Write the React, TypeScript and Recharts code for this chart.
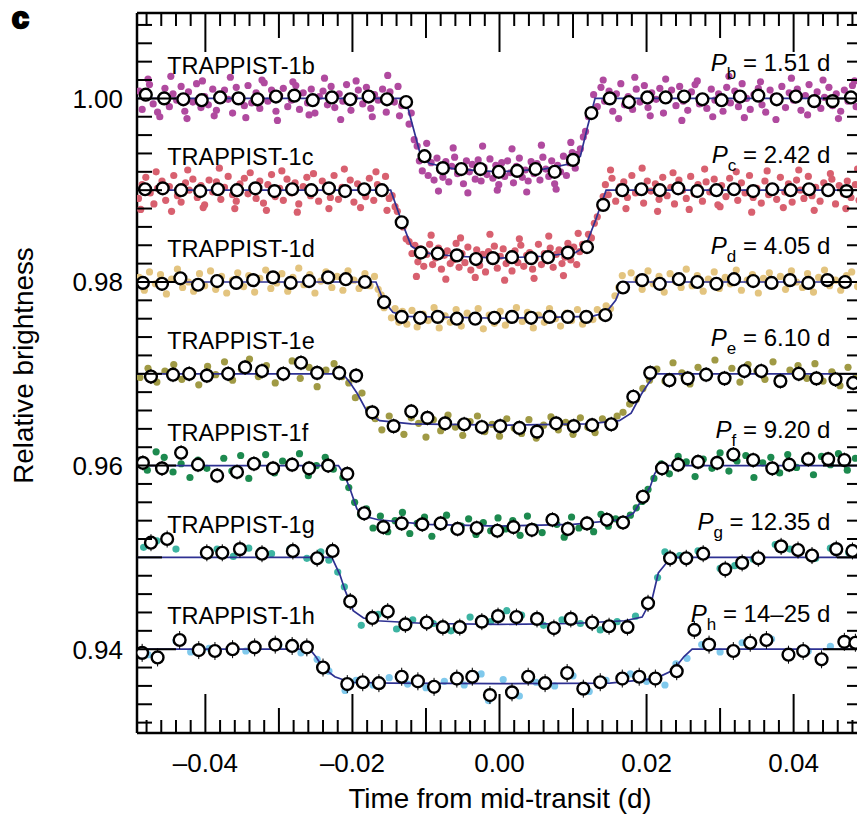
import { ComposedChart, Scatter, XAxis, YAxis, ReferenceLine } from 'recharts';

// time from mid-transit (d), flux deviation in parts per thousand from each row's baseline
const planets = ['b', 'c', 'd', 'e', 'f', 'g', 'h'];
const periods = ['1.51', '2.42', '4.05', '6.10', '9.20', '12.35', '14–25'];
const offsets = [1.0, 0.99, 0.98, 0.97, 0.96, 0.95, 0.94];

const xTickLabels = [-0.04, -0.02, 0, 0.02, 0.04];
const yTickLabels = [0.94, 0.96, 0.98, 1.0];

const bModel = [[-0.0493, 0], [-0.0128, 0], [-0.0118, -3.0], [-0.0107, -6.3], [-0.0095, -7.1], [-0.006, -7.7], [0, -8.0], [0.006, -7.7], [0.0098, -7.1], [0.011, -6.3], [0.012, -3.0], [0.013, 0], [0.0493, 0]];
const cModel = [[-0.0493, 0], [-0.0148, 0], [-0.0134, -3.2], [-0.012, -6.1], [-0.0105, -6.8], [-0.006, -7.2], [0, -7.4], [0.006, -7.2], [0.0103, -6.8], [0.0117, -6.1], [0.0131, -3.2], [0.0145, 0], [0.0493, 0]];
const dModel = [[-0.0493, 0], [-0.0168, 0], [-0.0158, -2.0], [-0.0145, -3.3], [-0.0126, -3.75], [0, -3.95], [0.0126, -3.75], [0.0145, -3.3], [0.0158, -2.0], [0.0168, 0], [0.0493, 0]];
const eModel = [[-0.0493, 0], [-0.0213, 0], [-0.0203, -1.0], [-0.0193, -2.2], [-0.0179, -4.3], [-0.0163, -5.1], [-0.012, -5.45], [0, -5.6], [0.012, -5.45], [0.0163, -5.1], [0.0179, -4.3], [0.0193, -2.2], [0.0203, -1.0], [0.0213, 0], [0.0493, 0]];
const fModel = [[-0.0493, 0], [-0.0219, 0], [-0.0211, -1.0], [-0.0203, -2.6], [-0.0194, -4.7], [-0.0185, -5.5], [-0.0165, -5.9], [-0.01, -6.4], [0, -6.6], [0.01, -6.4], [0.0165, -5.9], [0.0182, -5.2], [0.0193, -3.8], [0.0205, -2.3], [0.0211, -0.9], [0.0218, 0], [0.0493, 0]];
const gModel = [[-0.0493, 0], [-0.0228, 0], [-0.0217, -1.9], [-0.021, -3.6], [-0.0199, -5.8], [-0.0185, -6.6], [-0.0167, -6.9], [-0.01, -7.2], [0, -7.3], [0.01, -7.2], [0.017, -6.9], [0.0194, -6.5], [0.0208, -4.4], [0.0216, -1.7], [0.0228, -0.5], [0.0235, 0], [0.0493, 0]];
const hModel = [[-0.0493, 0], [-0.0258, 0], [-0.025, -0.8], [-0.024, -2.0], [-0.0224, -3.0], [-0.0203, -3.6], [-0.015, -3.7], [0, -3.75], [0.015, -3.7], [0.0212, -3.2], [0.0236, -2.3], [0.0251, -0.8], [0.0262, 0], [0.0493, 0]];

const bBins = [[-0.0481, 0.4], [-0.0456, 0.0], [-0.043, -0.1], [-0.0405, -0.2], [-0.038, 0.1], [-0.0355, 0.0], [-0.0329, -0.1], [-0.0304, 0.2], [-0.0279, 0.3], [-0.0254, -0.2], [-0.0228, 0.1], [-0.0203, -0.1], [-0.0178, 0.2], [-0.0153, -0.1], [-0.0127, -0.4], [-0.0102, -6.3], [-0.0077, -7.6], [-0.0052, -7.7], [-0.0026, -7.7], [-0.0001, -8.0], [0.0024, -7.9], [0.0049, -7.7], [0.0075, -8.0], [0.01, -6.7], [0.0125, -1.6], [0.015, 0.0], [0.0176, -0.4], [0.0201, 0.1], [0.0226, 0.1], [0.0251, 0.2], [0.0276, -0.1], [0.0302, -0.2], [0.0327, 0.2], [0.0352, 0.3], [0.0377, -0.1], [0.0403, 0.2], [0.0428, -0.3], [0.0453, -0.3], [0.0478, 0.1]];
const cBins = [[-0.0482, 0.1], [-0.0458, 0.2], [-0.0433, 0.0], [-0.0407, -0.1], [-0.0383, 0.1], [-0.0357, 0.0], [-0.0332, 0.2], [-0.0306, -0.1], [-0.0282, 0.1], [-0.0256, 0.0], [-0.0232, 0.2], [-0.021, -0.1], [-0.0184, 0.1], [-0.016, 0.0], [-0.0133, -3.5], [-0.0107, -6.8], [-0.0084, -6.9], [-0.0058, -7.1], [-0.0032, -7.5], [-0.0009, -7.4], [0.0017, -7.3], [0.0043, -7.4], [0.0066, -7.3], [0.0093, -6.8], [0.0119, -6.2], [0.0141, -1.6], [0.0167, 0.0], [0.0193, 0.1], [0.0218, 0.0], [0.0243, 0.2], [0.0269, -0.1], [0.0295, 0.0], [0.0319, 0.1], [0.0345, -0.1], [0.0371, 0.1], [0.0396, 0.0], [0.0421, 0.1], [0.0447, 0.0], [0.0472, -0.1]];
const dBins = [[-0.0485, -0.1], [-0.0459, -0.2], [-0.0434, 0.4], [-0.041, -0.3], [-0.0384, 0.1], [-0.0358, -0.1], [-0.0335, 0.2], [-0.0308, 0.5], [-0.0284, -0.1], [-0.0259, 0.1], [-0.0233, 0.5], [-0.0209, 0.3], [-0.0183, 0.0], [-0.0157, -2.2], [-0.0133, -3.8], [-0.0108, -3.9], [-0.0084, -3.8], [-0.0058, -4.0], [-0.0033, -4.0], [-0.0007, -3.9], [0.0017, -3.8], [0.0043, -3.9], [0.0068, -3.8], [0.0093, -3.8], [0.0118, -3.8], [0.0144, -3.6], [0.0168, -0.6], [0.0194, 0.2], [0.0218, -0.2], [0.0244, 0.3], [0.0269, 0.0], [0.0295, -0.2], [0.0319, 0.3], [0.0345, 0.1], [0.037, -0.1], [0.0395, 0.2], [0.042, -0.1], [0.0446, 0.2], [0.047, 0.0]];
const eBins = [[-0.0474, -0.3], [-0.0444, -0.1], [-0.0422, 0.0], [-0.0398, -0.2], [-0.0369, 0.0], [-0.0346, 0.7], [-0.0323, 0.3], [-0.0294, 0.0], [-0.027, 1.2], [-0.0248, 0.1], [-0.0218, 0.1], [-0.0195, -0.2], [-0.0173, -4.2], [-0.0144, -5.7], [-0.012, -4.1], [-0.0098, -4.8], [-0.0074, -5.4], [-0.0048, -5.5], [-0.0024, -5.8], [0.0001, -5.7], [0.0027, -5.9], [0.0051, -6.3], [0.0077, -5.4], [0.0101, -5.7], [0.0126, -5.6], [0.0152, -5.5], [0.0182, -2.5], [0.0205, 0.1], [0.0231, -0.7], [0.0256, -0.5], [0.0281, -0.1], [0.0306, -0.5], [0.0333, 0.3], [0.0356, 0.3], [0.0382, -0.8], [0.0407, 0.0], [0.0431, -0.5], [0.0457, -0.6], [0.0481, -1.0]];
const fBins = [[-0.0485, 0.3], [-0.0459, -0.3], [-0.0433, 1.4], [-0.041, 0.1], [-0.0384, -1.1], [-0.0357, -0.7], [-0.0334, 0.2], [-0.0308, -0.3], [-0.0282, 0.1], [-0.0259, -0.3], [-0.0233, 0.0], [-0.0207, -0.9], [-0.0184, -5.2], [-0.0158, -6.7], [-0.0133, -6.3], [-0.0105, -6.4], [-0.008, -6.3], [-0.0057, -6.9], [-0.0031, -6.8], [-0.0003, -7.1], [0.0019, -6.7], [0.0044, -7.0], [0.0072, -5.9], [0.0093, -6.9], [0.0119, -6.3], [0.0146, -5.9], [0.0168, -6.2], [0.0195, -3.4], [0.0221, -0.3], [0.0243, 0.1], [0.027, 0.4], [0.0296, 0.3], [0.0318, 1.2], [0.0345, 0.6], [0.0371, -0.3], [0.0394, 0.1], [0.042, 0.7], [0.0447, 0.7], [0.0469, 0.6]];
const gBins = [[-0.0474, 1.6], [-0.0452, 2.0], [-0.0398, 0.5], [-0.0377, 0.5], [-0.0353, 0.9], [-0.0323, 0.4], [-0.0281, 0.7], [-0.0248, -0.1], [-0.0227, 0.7], [-0.0203, -4.8], [-0.0173, -6.6], [-0.0152, -5.9], [-0.0128, -7.3], [-0.0099, -7.1], [-0.0077, -7.6], [-0.0054, -7.6], [-0.0024, -7.0], [-0.0002, -6.4], [0.0023, -6.5], [0.0051, -6.7], [0.0074, -7.7], [0.0097, -6.7], [0.0126, -7.1], [0.0149, -7.5], [0.0174, -7.6], [0.0202, -5.0], [0.0232, -0.1], [0.0254, -0.1], [0.0277, 0.4], [0.0307, -1.3], [0.033, -0.6], [0.0352, -0.1], [0.0383, 1.2], [0.0406, 0.8], [0.0425, 0.2], [0.0458, 0.9], [0.048, 0.7]];
const hBins = [[-0.0486, -0.4], [-0.0465, -0.9], [-0.0435, 1.0], [-0.0409, -0.1], [-0.0387, -0.2], [-0.0363, 0.0], [-0.0333, 0.2], [-0.0305, 0.5], [-0.0282, 0.35], [-0.0262, 0.2], [-0.024, -2.0], [-0.0207, -3.8], [-0.0186, -3.6], [-0.0164, -3.7], [-0.0133, -3.0], [-0.0111, -3.5], [-0.0089, -4.1], [-0.0058, -3.2], [-0.0037, -3.0], [-0.0013, -5.0], [0.0017, -4.7], [0.0039, -3.0], [0.0062, -3.7], [0.0092, -2.6], [0.0114, -4.3], [0.0137, -3.6], [0.0167, -3.2], [0.019, -3.0], [0.0212, -3.2], [0.0241, -2.4], [0.0265, 2.1], [0.0285, 0.5], [0.0318, -0.2], [0.0341, 0.7], [0.0363, 1.0], [0.0393, -0.6], [0.0413, -0.2], [0.0438, -1.1], [0.0469, 0.8], [0.0484, 0.7]];

const bDots = [[-0.049, 0.8], [-0.0486, -1.2], [-0.048, 0.3], [-0.0476, 1.5], [-0.0471, -0.6], [-0.0465, -1.5], [-0.046, 0.1], [-0.0455, 1.1], [-0.0449, -0.9], [-0.0444, 0.5], [-0.0439, -0.2], [-0.0433, 1.3], [-0.0428, -1.4], [-0.0423, 0.7], [-0.0417, -0.4], [-0.0412, 1.6], [-0.0406, -1.0], [-0.0401, 0.2], [-0.0396, -0.7], [-0.039, 1.0], [-0.0385, -1.3], [-0.038, 0.4], [-0.0374, 0.9], [-0.0369, -0.1], [-0.0363, -1.6], [-0.0358, 1.2], [-0.0353, 0.0], [-0.0347, -0.8], [-0.0342, 1.4], [-0.0337, -0.5], [-0.0331, 0.6], [-0.0326, -1.1], [-0.032, 1.7], [-0.0315, -0.3], [-0.031, 0.9], [-0.0304, -1.4], [-0.0299, 0.3], [-0.0294, 1.1], [-0.0288, -0.9], [-0.0283, -0.2], [-0.0277, 1.4], [-0.0272, -1.2], [-0.0267, 0.6], [-0.0261, -0.5], [-0.0256, 1.0], [-0.0251, -1.6], [-0.0245, 0.2], [-0.024, 0.8], [-0.0234, -0.7], [-0.0229, 1.3], [-0.0224, -1.0], [-0.0218, 0.5], [-0.0213, -0.3], [-0.0208, 1.5], [-0.0202, -1.3], [-0.0197, 0.1], [-0.0192, 0.9], [-0.0186, -0.6], [-0.0181, 1.2], [-0.0175, -1.1], [-0.017, 0.4], [-0.0165, -0.2], [-0.0159, 1.0], [-0.0154, -1.5], [-0.0149, 0.7], [-0.0143, -0.4], [-0.0138, 1.3], [-0.0133, -0.8],
  [-0.0478, 2.1], [-0.0462, -2.0], [-0.0447, 2.4], [-0.0425, -2.2], [-0.0404, 1.9], [-0.0388, -1.9], [-0.0366, 2.3], [-0.0345, -2.1], [-0.0323, 2.0], [-0.0302, -2.4], [-0.0281, 1.8], [-0.0259, -1.8], [-0.0238, 2.2], [-0.0216, -2.3], [-0.0195, 1.9], [-0.0173, -2.0], [-0.0152, 2.5], [-0.0136, -1.9],
  [-0.0127, -0.5], [-0.0123, -2.8], [-0.012, -1.6], [-0.0116, -4.5], [-0.0112, -5.2], [-0.0109, -6.8],
  [-0.0105, -7.9], [-0.0101, -6.2], [-0.0097, -8.4], [-0.0093, -7.0], [-0.0089, -8.9], [-0.0085, -6.5], [-0.0081, -7.8], [-0.0077, -8.6], [-0.0073, -6.9], [-0.0069, -9.1], [-0.0065, -7.4], [-0.0061, -6.4], [-0.0057, -8.2], [-0.0053, -7.6], [-0.0049, -9.3], [-0.0045, -6.8], [-0.0041, -8.0], [-0.0037, -7.2], [-0.0033, -8.8], [-0.0029, -6.7], [-0.0025, -9.0], [-0.0021, -7.5], [-0.0017, -8.3], [-0.0013, -6.6], [-0.0009, -8.7], [-0.0005, -7.3], [-0.0001, -9.4], [0.0003, -7.0], [0.0007, -8.5], [0.0011, -6.8], [0.0015, -8.1], [0.0019, -9.2], [0.0023, -7.4], [0.0027, -6.5], [0.0031, -8.6], [0.0035, -7.8], [0.0039, -9.0], [0.0043, -6.9], [0.0047, -8.2], [0.0051, -7.1], [0.0055, -8.9], [0.0059, -6.4], [0.0063, -7.7], [0.0067, -8.5], [0.0071, -6.8], [0.0075, -9.3], [0.0079, -7.3], [0.0083, -8.0], [0.0087, -6.3], [0.0091, -8.4], [0.0095, -7.0], [0.0099, -5.9], [0.0103, -7.6], [0.0106, -6.1],
  [-0.0099, -4.9], [-0.0083, -10.1], [-0.0063, -5.4], [-0.0043, -10.3], [-0.0023, -5.2], [-0.0003, -10.0], [0.0017, -5.5], [0.0037, -10.2], [0.0057, -5.1], [0.0077, -9.9], [0.0097, -4.8],
  [0.011, -5.5], [0.0114, -4.2], [0.0117, -3.6], [0.0121, -2.0], [0.0125, -1.5], [0.0128, 0.4],
  [0.0133, -0.9], [0.0138, 1.2], [0.0143, -0.3], [0.0149, 0.8], [0.0154, -1.4], [0.0159, 0.5], [0.0165, 1.6], [0.017, -0.7], [0.0175, 0.2], [0.0181, -1.2], [0.0186, 1.0], [0.0191, -0.4], [0.0197, 1.4], [0.0202, -1.0], [0.0207, 0.6], [0.0213, -0.1], [0.0218, 1.1], [0.0223, -1.6], [0.0229, 0.3], [0.0234, 0.9], [0.024, -0.8], [0.0245, 1.3], [0.025, -0.3], [0.0256, -1.3], [0.0261, 0.7], [0.0266, 1.5], [0.0272, -0.6], [0.0277, 0.1], [0.0282, -1.1], [0.0288, 1.0], [0.0293, -0.2], [0.0298, 0.5], [0.0304, -1.4], [0.0309, 1.2], [0.0314, -0.5], [0.032, 0.8], [0.0325, -0.9], [0.033, 1.6], [0.0336, 0.0], [0.0341, -1.2], [0.0346, 0.4], [0.0352, 1.1], [0.0357, -0.7], [0.0362, -1.5], [0.0368, 0.9], [0.0373, 0.2], [0.0378, -0.4], [0.0384, 1.3], [0.0389, -1.0], [0.0394, 0.6], [0.04, -0.2], [0.0405, 1.0], [0.041, -1.3], [0.0416, 0.3], [0.0421, 1.5], [0.0426, -0.6], [0.0432, 0.7], [0.0437, -1.1], [0.0442, 0.1], [0.0448, 1.2], [0.0453, -0.8], [0.0458, 0.5], [0.0464, -1.4], [0.0469, 0.9], [0.0474, -0.3], [0.048, 1.4], [0.0485, -0.9],
  [0.0141, 2.0], [0.0162, -2.2], [0.0184, 2.3], [0.0205, -1.9], [0.0226, 2.1], [0.0248, -2.4], [0.0269, 1.9], [0.029, -2.0], [0.0312, 2.4], [0.0333, -2.1], [0.0355, 1.8], [0.0376, -2.3], [0.0397, 2.2], [0.0419, -1.8], [0.044, 2.0], [0.0461, -2.2], [0.0483, 1.9]];

const cDots = [[-0.0491, -0.9], [-0.0486, 0.6], [-0.0481, 1.4], [-0.0475, -0.3], [-0.047, -1.5], [-0.0465, 0.2], [-0.0459, 1.0], [-0.0454, -1.1], [-0.0449, 0.4], [-0.0443, 1.6], [-0.0438, -0.6], [-0.0433, -1.3], [-0.0427, 0.8], [-0.0422, 0.0], [-0.0417, 1.2], [-0.0411, -0.8], [-0.0406, 0.5], [-0.0401, -1.6], [-0.0395, 1.1], [-0.039, -0.2], [-0.0385, 0.9], [-0.0379, -1.0], [-0.0374, 0.3], [-0.0369, 1.5], [-0.0363, -0.5], [-0.0358, -1.2], [-0.0353, 0.7], [-0.0347, 1.3], [-0.0342, -0.4], [-0.0337, 0.1], [-0.0331, -0.9], [-0.0326, 1.0], [-0.0321, -1.4], [-0.0315, 0.6], [-0.031, 1.7], [-0.0305, -0.7], [-0.0299, 0.2], [-0.0294, -1.1], [-0.0289, 1.2], [-0.0283, -0.3], [-0.0278, 0.8], [-0.0273, -1.5], [-0.0267, 0.4], [-0.0262, 1.4], [-0.0257, -0.6], [-0.0251, 0.0], [-0.0246, -1.2], [-0.0241, 1.0], [-0.0235, 0.5], [-0.023, -0.8], [-0.0225, 1.6], [-0.0219, -1.0], [-0.0214, 0.3], [-0.0209, -0.4], [-0.0203, 1.1], [-0.0198, -1.3], [-0.0193, 0.7], [-0.0187, 0.1], [-0.0182, -0.7], [-0.0177, 1.3], [-0.0171, -1.1], [-0.0166, 0.6], [-0.0161, -0.2], [-0.0155, 1.5], [-0.015, -0.9],
  [-0.0488, -2.1], [-0.0467, 2.0], [-0.0446, -2.3], [-0.0424, 2.2], [-0.0403, -1.9], [-0.0381, 2.4], [-0.036, -2.0], [-0.0339, 1.9], [-0.0317, -2.2], [-0.0296, 2.1], [-0.0275, -2.4], [-0.0253, 1.8], [-0.0232, -2.0], [-0.0211, 2.3], [-0.0189, -1.9], [-0.0168, 2.0], [-0.0153, -2.2],
  [-0.0146, -0.6], [-0.0142, -1.8], [-0.0139, -2.3], [-0.0135, -3.5], [-0.0131, -4.0], [-0.0127, -5.3], [-0.0123, -5.6], [-0.0119, -6.9],
  [-0.0115, -6.0], [-0.0111, -7.8], [-0.0107, -6.4], [-0.0103, -8.3], [-0.0099, -7.0], [-0.0095, -5.9], [-0.0091, -8.1], [-0.0087, -7.4], [-0.0083, -6.3], [-0.0079, -8.6], [-0.0075, -7.1], [-0.0071, -6.6], [-0.0067, -8.0], [-0.0063, -7.6], [-0.0059, -5.8], [-0.0055, -8.4], [-0.0051, -6.9], [-0.0047, -7.9], [-0.0043, -6.2], [-0.0039, -8.7], [-0.0035, -7.3], [-0.0031, -6.5], [-0.0027, -8.2], [-0.0023, -7.0], [-0.0019, -8.9], [-0.0015, -6.7], [-0.0011, -7.7], [-0.0007, -6.1], [-0.0003, -8.5], [0.0001, -7.2], [0.0005, -6.4], [0.0009, -8.0], [0.0013, -7.5], [0.0017, -8.8], [0.0021, -6.6], [0.0025, -7.9], [0.0029, -6.0], [0.0033, -8.3], [0.0037, -7.1], [0.0041, -6.8], [0.0045, -8.6], [0.0049, -7.4], [0.0053, -5.9], [0.0057, -8.1], [0.0061, -6.9], [0.0065, -7.7], [0.0069, -6.3], [0.0073, -8.4], [0.0077, -7.0], [0.0081, -6.5], [0.0085, -8.0], [0.0089, -7.3], [0.0093, -5.8], [0.0097, -7.6], [0.0101, -6.2], [0.0105, -8.1], [0.0109, -6.7], [0.0113, -5.9],
  [-0.0113, -9.4], [-0.0093, -4.9], [-0.0073, -9.7], [-0.0053, -5.2], [-0.0033, -9.5], [-0.0013, -4.8], [0.0007, -9.8], [0.0027, -5.3], [0.0047, -9.6], [0.0067, -5.0], [0.0087, -9.3], [0.0107, -4.7],
  [0.0117, -6.5], [0.0121, -4.8], [0.0125, -5.2], [0.0129, -3.6], [0.0133, -2.9], [0.0137, -1.8], [0.0141, -0.7], [0.0144, 0.6],
  [0.0148, -0.5], [0.0153, 1.3], [0.0158, -1.2], [0.0164, 0.4], [0.0169, 0.9], [0.0174, -0.8], [0.018, 1.6], [0.0185, -0.3], [0.019, 0.2], [0.0196, -1.4], [0.0201, 1.0], [0.0206, -0.1], [0.0212, 0.7], [0.0217, -1.0], [0.0222, 1.4], [0.0228, -0.6], [0.0233, 0.3], [0.0238, -1.5], [0.0244, 1.1], [0.0249, 0.0], [0.0254, -0.9], [0.026, 1.5], [0.0265, -0.4], [0.027, 0.6], [0.0276, -1.2], [0.0281, 0.9], [0.0286, -0.2], [0.0292, 1.2], [0.0297, -1.6], [0.0302, 0.5], [0.0308, -0.7], [0.0313, 1.3], [0.0318, 0.1], [0.0324, -1.1], [0.0329, 0.8], [0.0334, -0.3], [0.034, 1.6], [0.0345, -0.8], [0.035, 0.2], [0.0356, -1.4], [0.0361, 1.0], [0.0366, -0.5], [0.0372, 0.4], [0.0377, -1.0], [0.0382, 1.4], [0.0388, -0.2], [0.0393, 0.7], [0.0398, -1.3], [0.0404, 1.1], [0.0409, 0.0], [0.0414, -0.9], [0.042, 1.5], [0.0425, -0.6], [0.043, 0.3], [0.0436, -1.2], [0.0441, 0.8], [0.0446, -0.1], [0.0452, 1.2], [0.0457, -1.5], [0.0462, 0.5], [0.0468, -0.4], [0.0473, 1.0], [0.0478, -0.8], [0.0484, 0.6], [0.0489, -1.1],
  [0.0151, 2.2], [0.0172, -2.0], [0.0194, 2.4], [0.0215, -2.3], [0.0236, 1.9], [0.0258, -2.1], [0.0279, 2.3], [0.03, -1.8], [0.0322, 2.0], [0.0343, -2.4], [0.0364, 2.1], [0.0386, -1.9], [0.0407, 2.2], [0.0428, -2.2], [0.045, 1.8], [0.0471, -2.0], [0.0487, 2.3]];

const dDots = [[-0.049, 0.5], [-0.0483, -0.9], [-0.0476, 1.1], [-0.0468, -0.2], [-0.0461, 0.8], [-0.0453, -1.3], [-0.0446, 0.3], [-0.0438, 1.4], [-0.0431, -0.6], [-0.0423, 0.0], [-0.0416, -1.0], [-0.0408, 0.9], [-0.0401, -0.4], [-0.0393, 1.2], [-0.0386, -0.8], [-0.0378, 0.6], [-0.0371, -1.2], [-0.0363, 0.2], [-0.0356, 1.0], [-0.0348, -0.5], [-0.0341, 0.7], [-0.0333, -1.1], [-0.0326, 0.4], [-0.0318, 1.3], [-0.0311, -0.7], [-0.0303, -0.1], [-0.0296, 0.9], [-0.0288, -1.0], [-0.0281, 0.5], [-0.0273, 1.5], [-0.0266, -0.3], [-0.0258, 0.8], [-0.0251, -1.2], [-0.0243, 0.1], [-0.0236, 1.1], [-0.0228, -0.6], [-0.0221, 0.6], [-0.0213, -0.9], [-0.0206, 1.2], [-0.0198, 0.2], [-0.0191, -0.7], [-0.0183, 0.9], [-0.0176, -0.4], [-0.017, 0.6],
  [-0.0165, -0.8], [-0.0161, -1.4], [-0.0157, -2.8], [-0.0152, -2.2], [-0.0147, -3.9], [-0.0142, -2.9], [-0.0137, -4.4], [-0.0132, -3.2],
  [-0.0126, -4.6], [-0.0119, -3.1], [-0.0112, -4.9], [-0.0104, -3.5], [-0.0097, -4.2], [-0.0089, -2.8], [-0.0082, -5.0], [-0.0074, -3.7], [-0.0067, -4.4], [-0.0059, -3.0], [-0.0052, -4.8], [-0.0044, -3.4], [-0.0037, -4.1], [-0.0029, -2.9], [-0.0022, -5.1], [-0.0014, -3.6], [-0.0007, -4.5], [0.0001, -3.2], [0.0008, -4.7], [0.0016, -3.8], [0.0023, -2.8], [0.0031, -4.3], [0.0038, -3.3], [0.0046, -5.0], [0.0053, -3.6], [0.0061, -4.4], [0.0068, -2.9], [0.0076, -4.0], [0.0083, -4.8], [0.0091, -3.4], [0.0098, -4.2], [0.0106, -3.0], [0.0113, -4.6], [0.012, -3.5],
  [0.0127, -4.1], [0.0133, -3.0], [0.0139, -3.8], [0.0145, -2.6], [0.0151, -2.9], [0.0157, -1.5], [0.0162, -0.6], [0.0167, 0.7],
  [0.0172, -0.5], [0.0179, 1.0], [0.0187, 0.3], [0.0194, -0.8], [0.0202, 1.2], [0.0209, -0.2], [0.0217, 0.6], [0.0224, -1.1], [0.0232, 0.9], [0.0239, 0.1], [0.0247, -0.6], [0.0254, 1.4], [0.0262, -0.4], [0.0269, 0.7], [0.0277, -1.0], [0.0284, 0.3], [0.0292, 1.1], [0.0299, -0.7], [0.0307, 0.5], [0.0314, -0.2], [0.0322, 1.3], [0.0329, -0.9], [0.0337, 0.2], [0.0344, 0.8], [0.0352, -1.2], [0.0359, 0.4], [0.0367, 1.0], [0.0374, -0.3], [0.0382, 0.6], [0.0389, -0.8], [0.0397, 1.2], [0.0404, 0.0], [0.0412, -0.6], [0.0419, 0.9], [0.0427, -1.1], [0.0434, 0.5], [0.0442, 1.3], [0.0449, -0.4], [0.0457, 0.2], [0.0464, -0.9], [0.0472, 0.7], [0.0479, 1.1], [0.0487, -0.5]];

const eDots = [[-0.0489, -0.4], [-0.0478, 0.6], [-0.0466, -0.9], [-0.0455, 0.3], [-0.0443, 1.0], [-0.0432, -0.6], [-0.042, 0.2], [-0.0409, -1.2], [-0.0397, 0.8], [-0.0386, -0.1], [-0.0374, 1.3], [-0.0363, -0.7], [-0.0351, 0.5], [-0.034, 1.6], [-0.0328, -0.3], [-0.0317, 0.9], [-0.0305, -1.0], [-0.0294, 0.1], [-0.0282, 1.4], [-0.0271, -0.5], [-0.0259, 0.7], [-0.0248, -1.4], [-0.0236, 0.4], [-0.0225, 1.1], [-0.0214, -0.3],
  [-0.0205, -1.0], [-0.0196, -2.6], [-0.0187, -2.1], [-0.0178, -3.9], [-0.0169, -4.9],
  [-0.016, -6.1], [-0.015, -4.6], [-0.014, -5.9], [-0.013, -6.6], [-0.012, -4.8], [-0.011, -5.4], [-0.01, -6.9], [-0.009, -5.0], [-0.008, -6.2], [-0.007, -4.5], [-0.006, -5.8], [-0.005, -6.7], [-0.004, -5.2], [-0.003, -4.6], [-0.002, -6.3], [-0.001, -5.5], [0.0, -6.8], [0.001, -4.9], [0.002, -5.9], [0.003, -6.5], [0.004, -5.0], [0.005, -7.0], [0.006, -5.6], [0.007, -4.7], [0.008, -6.1], [0.009, -5.3], [0.01, -6.6], [0.011, -4.8], [0.012, -5.8], [0.013, -6.4], [0.014, -4.9], [0.015, -5.7], [0.016, -4.6],
  [0.0168, -4.2], [0.0177, -3.3], [0.0186, -2.8], [0.0195, -1.6], [0.0204, -0.7],
  [0.0214, 0.5], [0.0225, -0.8], [0.0236, 1.2], [0.0248, 0.1], [0.0259, -1.1], [0.027, 0.7], [0.0282, -0.4], [0.0293, 1.5], [0.0304, -0.2], [0.0316, 0.6], [0.0327, -0.9], [0.0338, 1.0], [0.035, 0.3], [0.0361, -0.6], [0.0372, 1.3], [0.0384, -1.0], [0.0395, 0.4], [0.0406, 0.9], [0.0418, -0.5], [0.0429, 1.1], [0.044, -0.8], [0.0452, 0.2], [0.0463, -1.3], [0.0474, 0.7], [0.0486, -0.3]];

const fDots = [[-0.049, 0.4], [-0.0479, -0.5], [-0.0467, 1.5], [-0.0456, 0.9], [-0.0444, -0.7], [-0.0433, 0.2], [-0.0421, -1.3], [-0.041, 0.6], [-0.0398, -0.3], [-0.0387, -1.0], [-0.0375, 0.8], [-0.0364, -0.6], [-0.0352, 1.1], [-0.0341, -1.4], [-0.0329, 0.3], [-0.0318, 1.2], [-0.0306, -0.8], [-0.0295, 0.5], [-0.0283, -0.2], [-0.0272, 1.3], [-0.026, -1.1], [-0.0249, 0.0], [-0.0237, 0.9], [-0.0226, -0.4],
  [-0.0213, -1.3], [-0.0205, -2.4], [-0.0197, -4.0], [-0.0189, -5.3], [-0.0181, -4.7],
  [-0.0172, -6.8], [-0.0162, -5.5], [-0.0152, -7.2], [-0.0142, -6.0], [-0.0132, -5.1], [-0.0122, -7.4], [-0.0112, -6.3], [-0.0102, -5.6], [-0.0092, -7.7], [-0.0082, -6.1], [-0.0072, -5.4], [-0.0062, -7.0], [-0.0052, -6.6], [-0.0042, -5.8], [-0.0032, -7.5], [-0.0022, -6.2], [-0.0012, -7.1], [-0.0002, -5.7], [0.0008, -6.9], [0.0018, -6.0], [0.0028, -7.6], [0.0038, -5.5], [0.0048, -6.7], [0.0058, -7.3], [0.0068, -5.9], [0.0078, -6.4], [0.0088, -7.8], [0.0098, -5.6], [0.0108, -6.8], [0.0118, -6.1], [0.0128, -7.2], [0.0138, -5.3], [0.0148, -6.6], [0.0158, -5.8], [0.0168, -6.3],
  [0.0178, -5.4], [0.0186, -4.6], [0.0194, -3.9], [0.0202, -2.6], [0.021, -1.4],
  [0.022, 0.2], [0.0231, -0.9], [0.0243, 1.0], [0.0254, 0.4], [0.0266, -1.2], [0.0277, 0.7], [0.0289, -0.3], [0.03, 1.4], [0.0312, -0.6], [0.0323, 0.5], [0.0335, 1.1], [0.0346, -1.3], [0.0358, 0.3], [0.0369, 0.9], [0.0381, -0.8], [0.0392, 1.2], [0.0404, -0.2], [0.0415, 0.6], [0.0427, -1.0], [0.0438, 1.0], [0.045, 0.1], [0.0461, 1.3], [0.0473, -0.5], [0.0484, 0.8]];

const gDots = [[-0.0484, 1.1], [-0.0466, 1.8], [-0.044, 0.9], [-0.0401, 0.3], [-0.0384, 0.9], [-0.0362, 0.1], [-0.0341, 1.0], [-0.031, 0.4], [-0.0285, 0.9], [-0.0262, -0.1], [-0.0243, 0.6], [-0.0232, -0.3], [-0.022, -1.6], [-0.0211, -3.2], [-0.0188, -7.4], [-0.0165, -6.2], [-0.014, -7.8], [-0.0118, -6.8], [-0.009, -7.2], [-0.0066, -8.0], [-0.004, -6.5], [-0.0012, -7.0], [0.001, -5.8], [0.003, -6.3], [0.006, -7.4], [0.0085, -6.8], [0.011, -7.2], [0.0137, -7.9], [0.016, -7.0], [0.0185, -6.4], [0.02, -4.8], [0.0215, -2.2], [0.0225, 0.6], [0.0245, 0.2], [0.027, 0.7], [0.03, -1.2], [0.032, -0.9], [0.0345, -0.2], [0.0375, 1.4], [0.0395, 0.9], [0.043, -0.1], [0.045, 1.0], [0.0475, 0.5]];

const hDots = [[-0.0478, -0.6], [-0.044, 0.9], [-0.042, -0.3], [-0.0395, 0.1], [-0.0345, -0.2], [-0.03, 0.4], [-0.027, -0.4], [-0.0248, -1.1], [-0.0232, -2.4], [-0.021, -4.5], [-0.0195, -3.4], [-0.0172, -3.9], [-0.015, -3.1], [-0.0125, -3.8], [-0.01, -4.2], [-0.0075, -3.5], [-0.0048, -3.9], [-0.0025, -2.7], [-0.0015, -5.6], [0.0005, -3.3], [0.0027, -5.1], [0.005, -3.6], [0.0075, -4.0], [0.01, -2.9], [0.0122, -4.6], [0.0145, -3.4], [0.0178, -2.7], [0.02, -3.5], [0.0225, -3.9], [0.024, -1.6], [0.0255, -1.0], [0.0275, 0.5], [0.03, -0.3], [0.033, 0.7], [0.037, 1.1], [0.0395, -0.4], [0.042, -0.2], [0.045, 0.3], [0.048, 0.8]];

const dotColors = ['#b04a9f', '#d8606f', '#e3c47f', '#a09a45', '#1d8a4f', '#3db4a2', '#80c9ec'];
const errHalf = [0, 0, 0, 7.5, 7.5, 8.5, 9];
const MODEL_COLOR = '#2e3192';

const X_MIN = -0.0493;
const X_MAX = 0.0493;
const Y_MIN = 0.93087;
const Y_MAX = 1.0093;
const TOP = 13;
const RIGHT = 862;
const FONT = '"Liberation Sans", Arial, Helvetica, sans-serif';

const models = [bModel, cModel, dModel, eModel, fModel, gModel, hModel];
const bins = [bBins, cBins, dBins, eBins, fBins, gBins, hBins];
const dots = [bDots, cDots, dDots, eDots, fDots, gDots, hDots];

const toPoints = (pairs: number[][], offset: number) =>
  pairs.map(([t, p]) => ({ t, f: offset + p / 1000 }));

const xTicks = Array.from({ length: 49 }, (_, i) => +((i - 24) * 0.002).toFixed(3));
const yTicks = Array.from({ length: 39 }, (_, i) => +((466 + i) * 0.002).toFixed(3));

const fmt = (v: number) => (v < 0 ? '\u2013' : '') + Math.abs(v).toFixed(2);
const isLabel = (list: number[], v: number) => list.some((l) => Math.abs(l - v) < 1e-9);

function XTick(props: any) {
  const { x, y, payload } = props;
  const v = payload.value;
  const k = Math.round(v / 0.002);
  const len = k % 10 === 0 ? 39 : k % 5 === 0 ? 25 : 13;
  return (
    <g>
      <line x1={x} x2={x} y1={y} y2={y - len} stroke="#000" strokeWidth={2} />
      <line x1={x} x2={x} y1={TOP} y2={TOP + len} stroke="#000" strokeWidth={2} />
      {isLabel(xTickLabels, v) && (
        <text x={x} y={y + 39} textAnchor="middle" fontFamily={FONT} fontSize={26} fill="#000">
          {fmt(v)}
        </text>
      )}
    </g>
  );
}

function YTick(props: any) {
  const { x, y, payload } = props;
  const v = payload.value;
  const k = Math.round(v / 0.002);
  const len = k % 10 === 0 ? 39 : k % 5 === 0 ? 25 : 15;
  return (
    <g>
      <line x1={x} x2={x + len} y1={y} y2={y} stroke="#000" strokeWidth={2} />
      <line x1={RIGHT - len} x2={RIGHT} y1={y} y2={y} stroke="#000" strokeWidth={2} />
      {isLabel(yTickLabels, v) && (
        <text x={x - 14} y={y + 9.5} textAnchor="end" fontFamily={FONT} fontSize={26} fill="#000">
          {v.toFixed(2)}
        </text>
      )}
    </g>
  );
}

const nameLabels = planets.map((p, i) => ({ t: -0.0452, f: offsets[i] + 0.0027, text: `TRAPPIST-1${p}` }));
const periodLabels = planets.map((p, i) => ({ t: 0.045, f: offsets[i] + 0.003, letter: p, period: periods[i] }));

export default function App() {
  return (
    <div style={{ position: 'absolute', left: 0, top: 0, width: 857, height: 816, overflow: 'hidden', background: '#fff' }}>
      <ComposedChart width={865} height={816} margin={{ top: TOP, right: 3, left: 77, bottom: 53 }}>
        <XAxis
          type="number"
          dataKey="t"
          domain={[X_MIN, X_MAX]}
          allowDataOverflow
          ticks={xTicks}
          interval={0}
          tickSize={0}
          tickMargin={0}
          tickLine={false}
          axisLine={{ stroke: '#000', strokeWidth: 2.5 }}
          tick={(p: any) => <XTick {...p} />}
          height={30}
        />
        <YAxis
          type="number"
          dataKey="f"
          domain={[Y_MIN, Y_MAX]}
          allowDataOverflow
          ticks={yTicks}
          interval={0}
          tickSize={0}
          tickMargin={0}
          tickLine={false}
          axisLine={{ stroke: '#000', strokeWidth: 2.5 }}
          tick={(p: any) => <YTick {...p} />}
          width={60}
        />
        <ReferenceLine y={Y_MAX} stroke="#000" strokeWidth={2.5} />
        <ReferenceLine x={X_MAX} stroke="#000" strokeWidth={2.5} />
        {dots.map((d, i) => (
          <Scatter
            key={`dots-${i}`}
            data={toPoints(d, offsets[i])}
            isAnimationActive={false}
            shape={(p: any) => <circle cx={p.cx} cy={p.cy} r={3.6} fill={dotColors[i]} />}
          />
        ))}
        {models.map((m, i) => (
          <Scatter
            key={`model-${i}`}
            data={toPoints(m, offsets[i])}
            isAnimationActive={false}
            line={{ stroke: MODEL_COLOR, strokeWidth: 1.7, fill: 'none' }}
            lineType="joint"
            shape={() => <g />}
          />
        ))}
        {bins.map((b, i) => (
          <Scatter
            key={`bins-${i}`}
            data={toPoints(b, offsets[i])}
            isAnimationActive={false}
            shape={(p: any) => (
              <g>
                {errHalf[i] > 0 && (
                  <line x1={p.cx} x2={p.cx} y1={p.cy - errHalf[i]} y2={p.cy + errHalf[i]} stroke="#000" strokeWidth={1} />
                )}
                <circle cx={p.cx} cy={p.cy} r={5.9} fill="#fff" stroke="#000" strokeWidth={2.4} />
              </g>
            )}
          />
        ))}
        <Scatter
          data={nameLabels}
          isAnimationActive={false}
          shape={(p: any) => (
            <text x={p.cx} y={p.cy} fontFamily={FONT} fontSize={23.5} fill="#000">
              {p.payload.text}
            </text>
          )}
        />
        <Scatter
          data={periodLabels}
          isAnimationActive={false}
          shape={(p: any) => (
            <text x={p.cx} y={p.cy} textAnchor="end" fontFamily={FONT} fontSize={24} fill="#000">
              <tspan fontStyle="italic">P</tspan>
              <tspan dy={8} fontSize={17}>{p.payload.letter}</tspan>
              <tspan dy={-8}>{` = ${p.payload.period} d`}</tspan>
            </text>
          )}
        />
      </ComposedChart>
      <svg width={857} height={816} style={{ position: 'absolute', left: 0, top: 0, pointerEvents: 'none' }}>
        <text x={12} y={28} fontFamily={FONT} fontWeight="bold" fontSize={30} stroke="#000" strokeWidth={2.6} fill="#000">
          c
        </text>
        <text
          transform="translate(33, 365.5) rotate(-90)"
          textAnchor="middle"
          fontFamily={FONT}
          fontSize={27.8}
          fill="#000"
        >
          Relative brightness
        </text>
        <text x={500} y={808} textAnchor="middle" fontFamily={FONT} fontSize={27.8} fill="#000">
          Time from mid-transit (d)
        </text>
      </svg>
    </div>
  );
}
